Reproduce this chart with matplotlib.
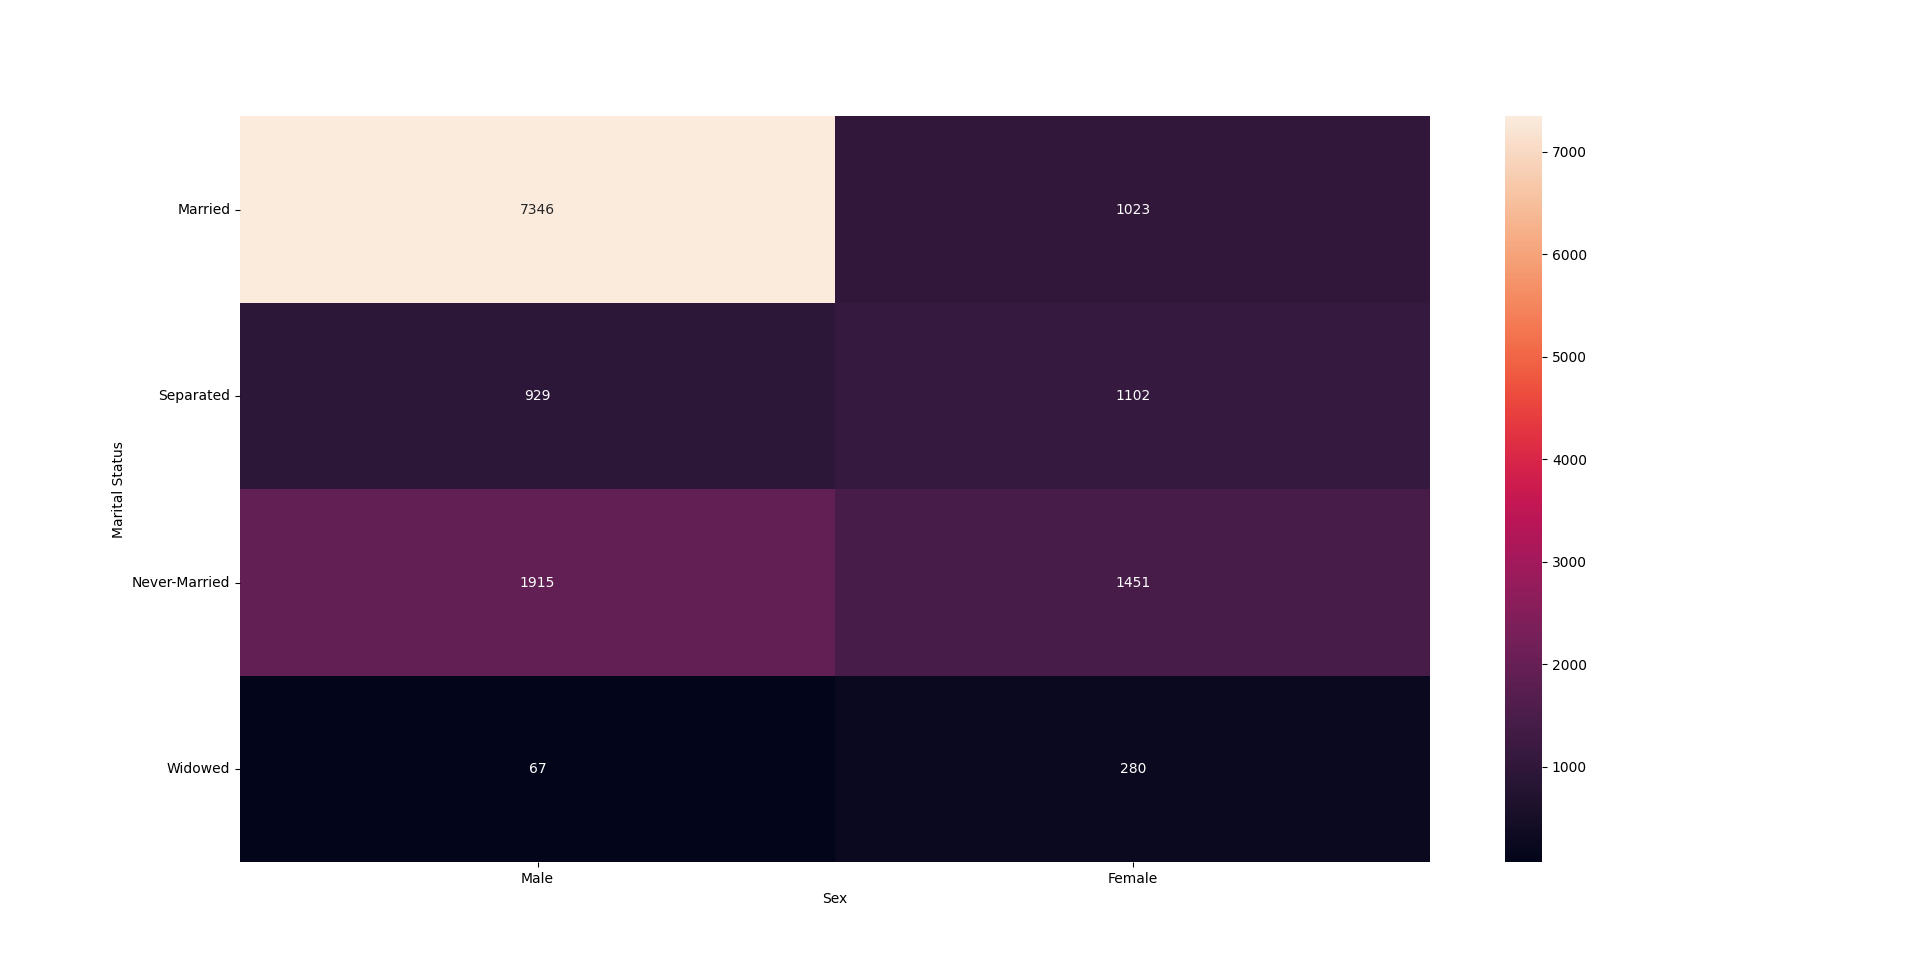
import matplotlib
matplotlib.use("Agg")
import matplotlib.pyplot as plt
import seaborn as sns
import pandas as pd

marital_status = ["Married", "Separated", "Never-Married", "Widowed"]
sex = ["Male", "Female"]
male_counts = [7346, 929, 1915, 67]
female_counts = [1023, 1102, 1451, 280]

df = pd.DataFrame({"Male": male_counts, "Female": female_counts}, index=marital_status)
df.index.name = "Marital Status"
df.columns.name = "Sex"

fig, ax = plt.subplots(figsize=(19.2, 9.69), dpi=100)
sns.heatmap(df, annot=True, fmt="d", ax=ax)
plt.yticks(rotation=0)
fig.savefig("out.png", dpi=100)
